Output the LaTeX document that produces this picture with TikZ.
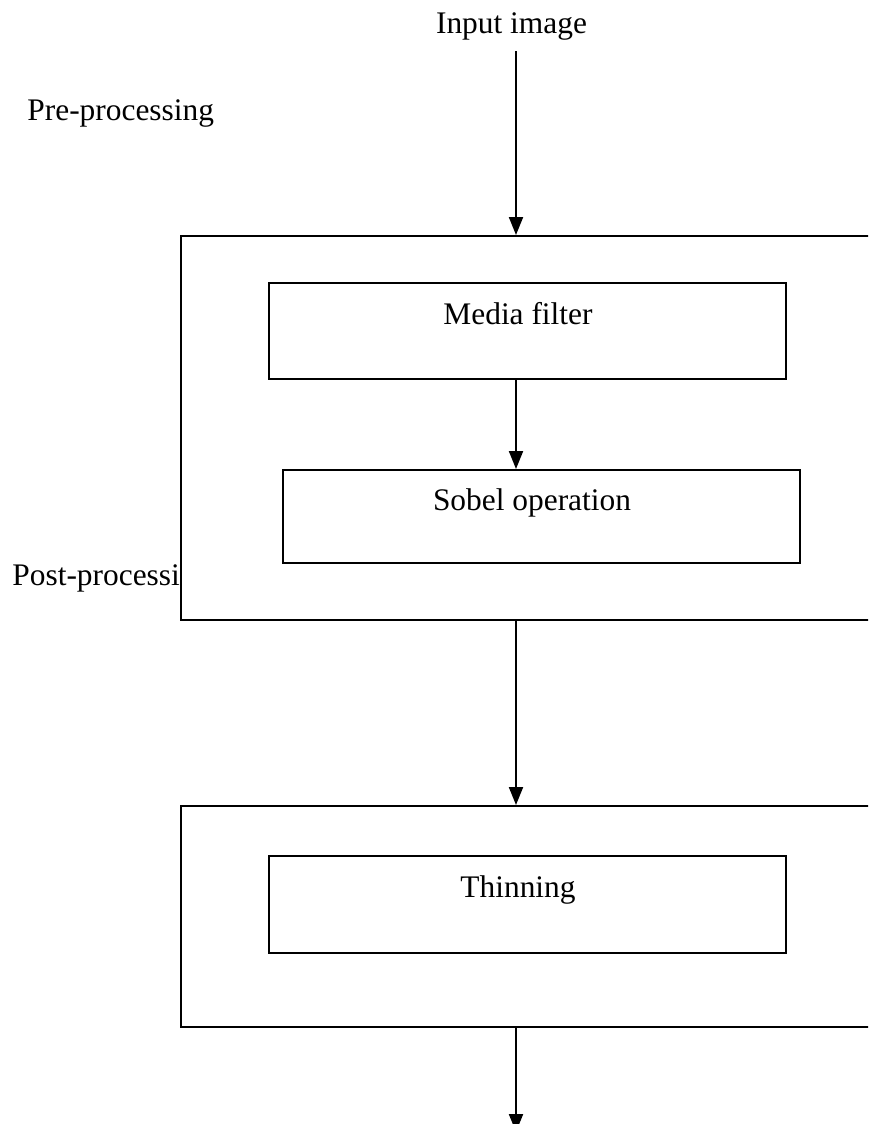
\documentclass[tikz,border=0pt]{standalone}
\usepackage{fontspec}
\setmainfont{Liberation Serif}
\usetikzlibrary{arrows.meta}
\tikzset{
  stagebox/.style={draw,line width=1pt,fill=white,minimum width=349.5pt,inner sep=0pt},
  procbox/.style={draw,line width=1pt,fill=white,minimum width=258.5pt,inner sep=0pt},
  lbl/.style={font=\fontsize{15.7}{18}\selectfont,inner sep=0pt,anchor=base},
  arr/.style={line width=1pt,-{Triangle[width=7pt,length=9pt]}}
}
\begin{document}
\begin{tikzpicture}[x=0.5pt,y=-0.5pt]
\clip (0,0) rectangle (868,1124);
\fill[white] (0,0) rectangle (868,1124);

\node[lbl] (input) at (511.5,33) {Input image};
\node[lbl,anchor=base west] (pre) at (27,120) {Pre-processing};
\node[lbl,anchor=base west] (post) at (12,585) {Post-processing};

% first stage
\node[stagebox,minimum height=192pt] (stage1) at (530.5,428) {};
\node[procbox,minimum height=48pt] (media) at (527.5,331) {};
\node[lbl] (mediatxt) at (518,324) {Media filter};
\node[procbox,minimum height=46.5pt] (sobel) at (541.5,516.5) {};
\node[lbl] (sobeltxt) at (532,510) {Sobel operation};

% second stage
\node[stagebox,minimum height=110.5pt] (stage2) at (530.5,916.5) {};
\node[procbox,minimum height=48.5pt] (thin) at (527.5,904.5) {};
\node[lbl] (thintxt) at (518,897) {Thinning};

\coordinate (top) at (516,51);
\coordinate (out) at (516,1132);
\draw[arr] (top) -- (top |- stage1.north);
\draw[arr] (top |- media.south) -- (top |- sobel.north);
\draw[arr] (top |- stage1.south) -- (top |- stage2.north);
\draw[arr] (top |- stage2.south) -- (out);
\end{tikzpicture}
\end{document}
